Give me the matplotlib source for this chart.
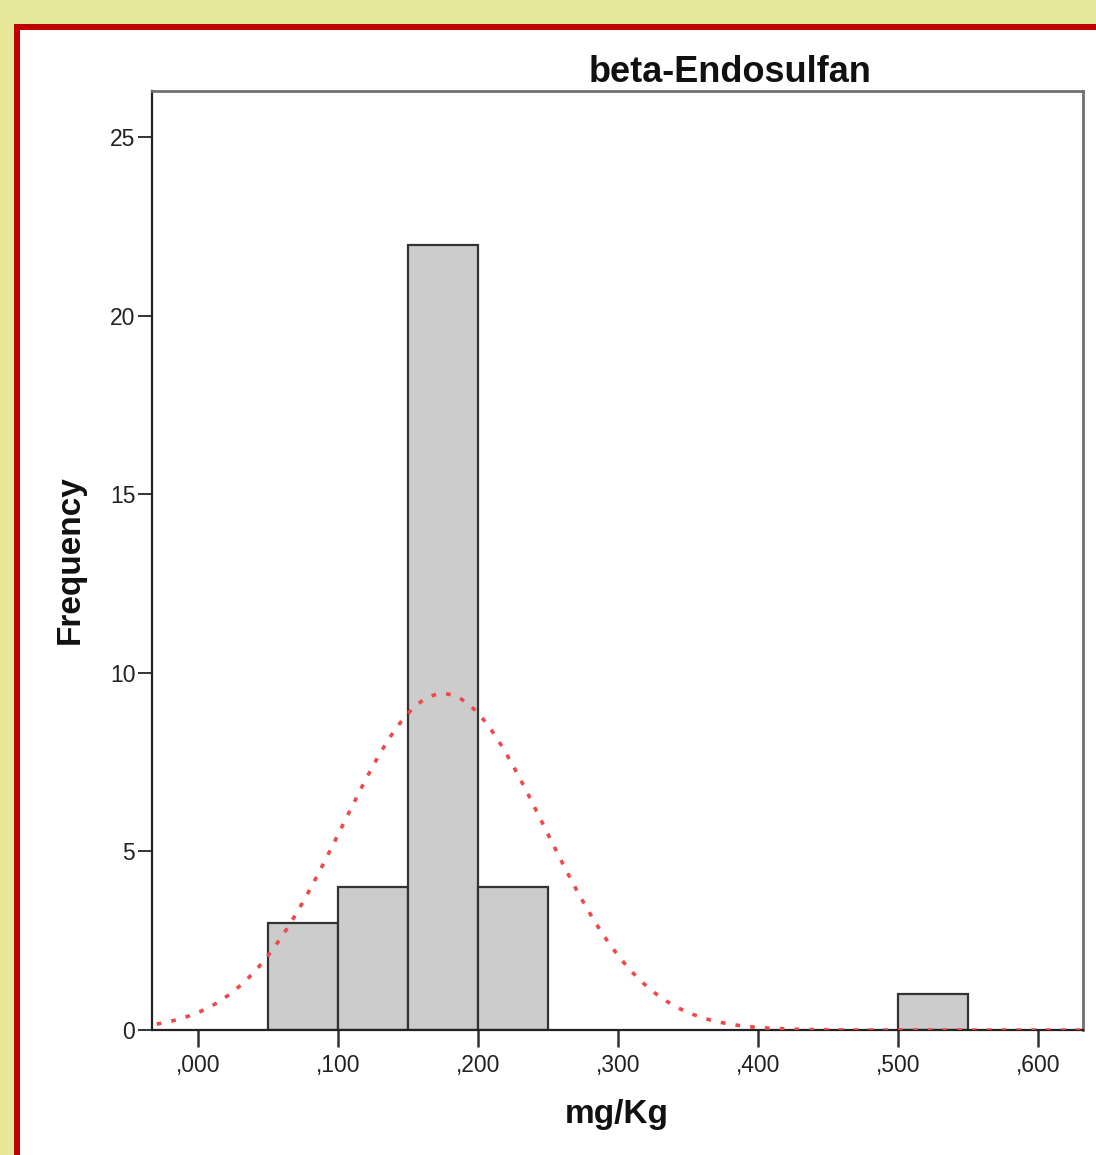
import numpy as np
import matplotlib
matplotlib.use('Agg')
import matplotlib.pyplot as plt
from matplotlib.patches import Rectangle
from matplotlib.ticker import FuncFormatter

# histogram bins (mg/Kg) and counts
bin_left = [0.05, 0.10, 0.15, 0.20, 0.50]
counts = [3, 4, 22, 4, 1]
bin_width = 0.05

# fitted normal curve parameters
fit_mean = 0.175
fit_std = 0.072
n_obs = 34

yticks = [0, 5, 10, 15, 20, 25]
xticks = [0.0, 0.1, 0.2, 0.3, 0.4, 0.5, 0.6]

plt.rcParams['font.family'] = ['Liberation Sans', 'DejaVu Sans']

W, H = 1096, 1155
fig = plt.figure(figsize=(W / 100, H / 100), dpi=100)
fig.patch.set_facecolor('#E8E89A')

# red frame and white panel
fig.patches.append(Rectangle((14 / W, 0), 1, 1 - 24 / H, transform=fig.transFigure,
                             facecolor='#C00000', edgecolor='none', zorder=-10))
fig.patches.append(Rectangle((20 / W, 0), 1, 1 - 30 / H, transform=fig.transFigure,
                             facecolor='white', edgecolor='none', zorder=-9))

ax = fig.add_axes([152 / W, 1 - 1030 / H, 931 / W, 939 / H])
ax.set_zorder(5)
ax.set_facecolor('white')

ax.bar(bin_left, counts, width=bin_width, align='edge', color='#CCCCCC',
       edgecolor='#333333', linewidth=1.6, zorder=2)

xs = np.linspace(-0.04, 0.64, 600)
ys = n_obs * bin_width / (fit_std * np.sqrt(2 * np.pi)) * np.exp(-0.5 * ((xs - fit_mean) / fit_std) ** 2)
ax.plot(xs, ys, color='#F04848', linestyle=(0, (1.3, 2.8)), linewidth=2.6,
        dash_capstyle='butt', zorder=3)

ax.set_xlim(-0.0329, 0.632)
ax.set_ylim(0, 26.3)

ax.set_yticks(yticks)
ax.set_xticks(xticks)
ax.xaxis.set_major_formatter(FuncFormatter(lambda v, p: ('%.3f' % v).replace('0.', ',', 1)))
ax.tick_params(axis='y', direction='out', length=10, width=1.4, color='#333333',
               labelsize=16.5, labelcolor='#222222', pad=2)
ax.tick_params(axis='x', direction='out', length=12, width=1.8, color='#333333',
               labelsize=16.5, labelcolor='#222222', pad=5)

for side in ['left', 'bottom']:
    ax.spines[side].set_color('#222222')
    ax.spines[side].set_linewidth(1.6)
for side in ['top', 'right']:
    ax.spines[side].set_color('#707070')
    ax.spines[side].set_linewidth(2)

fig.text(730 / W, 1 - 72 / H, 'beta-Endosulfan', ha='center', va='center',
         fontsize=26, fontweight='bold', color='#111111')
fig.text(70 / W, 1 - 560 / H, 'Frequency', ha='center', va='center', rotation=90,
         fontsize=24, fontweight='bold', color='#111111')
fig.text(617 / W, 1 - 1115 / H, 'mg/Kg', ha='center', va='center',
         fontsize=24, fontweight='bold', color='#111111')

fig.savefig('out.png', dpi=100, facecolor=fig.get_facecolor())
